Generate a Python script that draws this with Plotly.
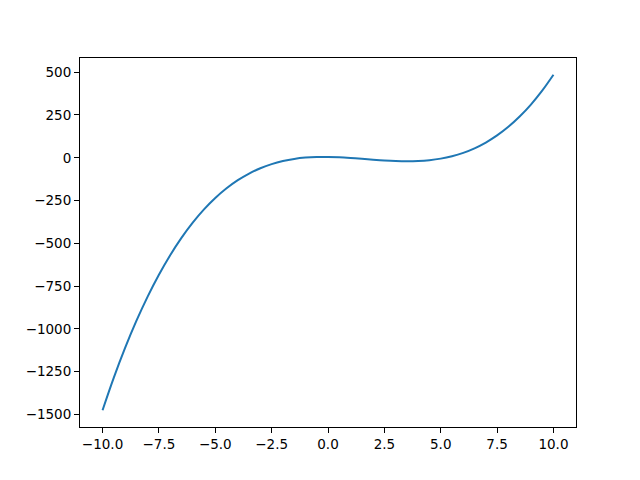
import plotly.graph_objects as go

x_values = [-10.0, -9.5, -9.0, -8.5, -8.0, -7.5, -7.0, -6.5, -6.0, -5.5, -5.0, -4.5, -4.0, -3.5, -3.0, -2.5, -2.0, -1.5, -1.0, -0.5,
            0.0, 0.5, 1.0, 1.5, 2.0, 2.5, 3.0, 3.5, 4.0, 4.5, 5.0, 5.5, 6.0, 6.5, 7.0, 7.5, 8.0, 8.5, 9.0, 9.5, 10.0]
y_values = [-1475, -1284.6, -1111, -953.4, -811, -683.1, -569, -467.9, -379, -301.6, -235, -178.4, -131, -92.1, -61, -36.9, -19, -6.6, 1, 4.6,
            5, 2.9, -1, -5.9, -11, -15.6, -19, -20.4, -19, -14.1, -5, 9.1, 29, 55.4, 89, 130.6, 181, 240.9, 311, 392.1, 485]

x_ticks = [-10.0, -7.5, -5.0, -2.5, 0.0, 2.5, 5.0, 7.5, 10.0]
y_ticks = [-1500, -1250, -1000, -750, -500, -250, 0, 250, 500]

fig = go.Figure()
fig.add_trace(go.Scatter(x=x_values, y=y_values, mode="lines",
                         line=dict(color="#1f77b4", width=2, shape="spline")))

axis_common = dict(showgrid=False, zeroline=False, showline=True, linecolor="black", linewidth=1,
                   mirror=True, ticks="outside", ticklen=5, tickwidth=1, tickcolor="black",
                   tickfont=dict(family="DejaVu Sans", size=13.5, color="black"))

xmin, xmax = min(x_values), max(x_values)
ymin, ymax = min(y_values), max(y_values)
xp = (xmax - xmin) * 0.05
yp = (ymax - ymin) * 0.05

fig.update_xaxes(range=[xmin - xp, xmax + xp], tickvals=x_ticks,
                 ticktext=[f"{v:.1f}".replace("-", "\u2212") for v in x_ticks], **axis_common)
fig.update_yaxes(range=[ymin - yp, ymax + yp], tickvals=y_ticks,
                 ticktext=[f"{v}".replace("-", "\u2212") for v in y_ticks], **axis_common)

fig.update_layout(width=640, height=480, margin=dict(l=80, r=64, t=58, b=53),
                  plot_bgcolor="white", paper_bgcolor="white", showlegend=False)

fig.write_html("out.html", config={"displayModeBar": False, "staticPlot": True},
               post_script="document.body.style.margin='0';document.body.style.overflow='hidden';")
